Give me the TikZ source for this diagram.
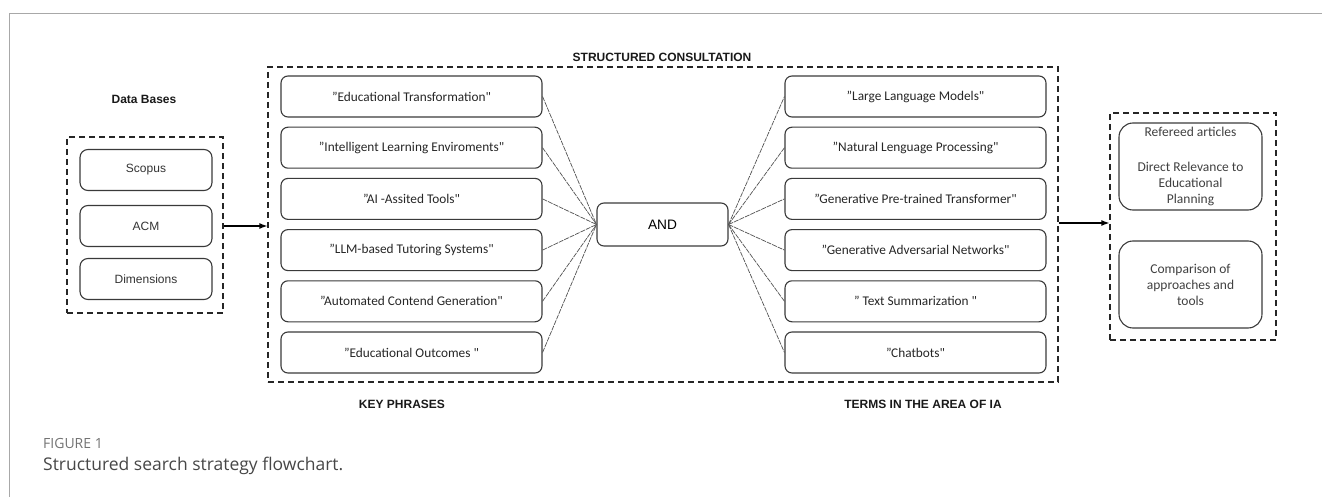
\documentclass[tikz,border=0pt]{standalone}
\usepackage{fontspec}
\setmainfont{Liberation Sans}
\newfontfamily\calfont{Carlito}
\newfontfamily\capfont{Open Sans}
\usetikzlibrary{arrows.meta}

\definecolor{framegray}{HTML}{A8A8A8}
\definecolor{boxline}{HTML}{3A3A3A}

\tikzset{
  term/.style={draw=boxline, line width=1.1pt, rounded corners=7pt, inner sep=0pt,
    minimum width=261pt, minimum height=41pt, text=black!85,
    font=\calfont\fontsize{13.3}{15}\selectfont},
  dbbox/.style={draw=boxline, line width=1.1pt, rounded corners=8pt, inner sep=0pt,
    minimum width=132pt, minimum height=41pt, text=black!80,
    font=\fontsize{12}{14}\selectfont},
  resbox/.style={draw=boxline, line width=1.1pt, rounded corners=14pt, inner sep=0pt,
    minimum width=143pt, minimum height=87pt, align=center, text=black!75,
    font=\calfont\fontsize{13.5}{16}\selectfont},
  group/.style={draw=black!85, line width=1.2pt, dash pattern=on 6pt off 4pt, inner sep=0pt},
  head/.style={font=\bfseries\fontsize{12}{14}\selectfont, text=black!90},
  link/.style={draw=black!68, line width=0.7pt, dash pattern=on 5pt off 1pt},
  flow/.style={-{Latex[length=8pt,width=6pt]}, line width=1.3pt}
}

\begin{document}
\begin{tikzpicture}[x=1pt,y=-1pt]
  \useasboundingbox (0,0) rectangle (1322,497);
  % page frame
  \draw[framegray, line width=1pt] (9,497) -- (9,14) -- (1322,14);

  % data bases
  \node[head] (dblabel) at (144,99) {Data Bases};
  \node[group, minimum width=156pt, minimum height=176pt] (dbs) at (145,225) {};
  \node[dbbox] (scopus) at (146,170) {Scopus};
  \node[dbbox] (acm) at (146,226) {ACM};
  \node[dbbox] (dims) at (146,279) {Dimensions};

  % structured consultation
  \node[head] (consultlabel) at (662,57) {STRUCTURED CONSULTATION};
  \node[group, minimum width=790pt, minimum height=315pt] (consult) at (663,224.5) {};
  \node[draw=boxline, line width=1.1pt, rounded corners=7pt, minimum width=131pt,
    minimum height=43pt, font=\fontsize{13.7}{16}\selectfont] (and) at (662.5,224.5) {AND};

  \foreach \txt [count=\i] in {%
      ”Educational Transformation",
      ”Intelligent Learning Enviroments",
      ”AI -Assited Tools",
      ”LLM-based Tutoring Systems",
      ”Automated Contend Generation",
      ”Educational Outcomes "} {
    \node[term] (kp\i) at (411.5,{96.5+(\i-1)*51.2}) {\txt};
    \draw[link] (kp\i.east) -- (and.west);
  }
  \foreach \txt [count=\i] in {%
      ”Large Language Models",
      ”Natural Lenguage Processing",
      ”Generative Pre-trained Transformer",
      ”Generative Adversarial Networks",
      ” Text Summarization ",
      ”Chatbots"} {
    \node[term] (ia\i) at (915.5,{96.5+(\i-1)*51.2}) {\txt};
    \draw[link] (and.east) -- (ia\i.west);
  }
  \node[head] (kplabel) at (402,404) {KEY PHRASES};
  \node[head] (ialabel) at (923,404) {TERMS IN THE AREA OF IA};

  % results
  \node[group, minimum width=166pt, minimum height=227pt] (res) at (1193,226.5) {};
  \node[resbox] (refereed) at (1190.5,166.5)
    {Refereed articles\\[19pt]Direct Relevance to\\Educational\\Planning};
  \node[resbox] (compare) at (1190.5,284.5)
    {Comparison of\\approaches and\\tools};

  \draw[flow] (dbs.east |- acm) -- (consult.west |- acm);
  \draw[flow] (consult.east |- 0,223) -- (res.west |- 0,223);

  % caption
  \node[anchor=west, inner sep=0pt, text=black!55,
    font=\capfont\fontsize{14}{16}\selectfont] (fig) at (43,443) {FIGURE 1};
  \node[anchor=west, inner sep=0pt, text=black!72,
    font=\capfont\fontsize{17.5}{20}\selectfont] (caption) at (43,466)
    {Structured search strategy flowchart.};
\end{tikzpicture}
\end{document}
